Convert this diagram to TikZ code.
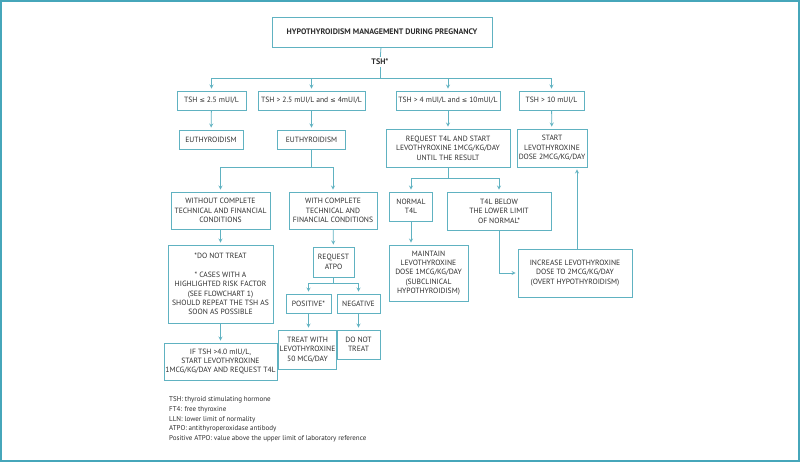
\documentclass[tikz,border=0pt]{standalone}
\usepackage{fontspec}
\setmainfont{PT Sans}
\newfontfamily\symfont[Scale=0.85]{DejaVu Sans}
\usepackage{tikz}
\usetikzlibrary{arrows}
\usetikzlibrary{positioning}
\definecolor{frameteal}{RGB}{70,166,186}
\definecolor{boxline}{RGB}{96,178,193}
\definecolor{ink}{RGB}{45,45,45}
\newcommand{\lesym}{{\symfont ≤}}
\tikzset{>=stealth,
  box/.style={draw=boxline, line width=0.8pt, align=center, inner sep=1pt,
    text=ink, font=\fontsize{7.6}{9.4}\selectfont},
  link/.style={color=boxline, line width=0.8pt},
  arr/.style={link, ->, shorten >=2pt}}

\begin{document}
\begin{tikzpicture}[x=1pt, y=-1pt]
    \useasboundingbox (0,0) rectangle (800,462);
    \draw[frameteal, line width=2pt] (1,1) rectangle (799,461);

    \node (title) [box, minimum width=220, minimum height=30, font=\bfseries\fontsize{8}{10}\selectfont] at (382,32) {HYPOTHYROIDISM MANAGEMENT DURING PREGNANCY};
    \node (tsh) [text=ink, font=\bfseries\fontsize{8}{10}\selectfont, inner sep=2pt] at (380,62) {TSH*};

    % TSH ranges
    \node (r1a) [box, minimum width=69, minimum height=19] at (211.5,100.5) {TSH \lesym{} 2.5 mUI/L};
    \node (r1b) [box, minimum width=107, minimum height=19] at (311.5,100.5) {TSH > 2.5 mUI/L and \lesym{} 4mUI/L};
    \node (r1c) [box, minimum width=104, minimum height=19] at (448,100.5) {TSH > 4 mUI/L and \lesym{} 10mUI/L};
    \node (r1d) [box, minimum width=65, minimum height=19] at (551.5,100.5) {TSH > 10 mUI/L};

    \node (eu1) [box, minimum width=64, minimum height=19] at (211,139.5) {EUTHYROIDISM};
    \node (eu2) [box, minimum width=68, minimum height=19] at (311.5,139.5) {EUTHYROIDISM};
    \node (req) [box, minimum width=124, minimum height=38] at (448,148) {REQUEST T4L AND START\\LEVOTHYROXINE 1MCG/KG/DAY\\UNTIL THE RESULT};
    \node (start) [box, minimum width=70, minimum height=38] at (552,148) {START\\LEVOTHYROXINE\\DOSE 2MCG/KG/DAY};

    % right branch
    \node (norm) [box, minimum width=43, minimum height=29] at (411,206.5) {NORMAL\\T4L};
    \node (below) [box, minimum width=104, minimum height=38] at (499,211) {T4L BELOW\\THE LOWER LIMIT\\OF NORMAL*};
    \node (maint) [box, minimum width=79, minimum height=56] at (428.5,273) {MAINTAIN\\LEVOTHYROXINE\\DOSE 1MCG/KG/DAY\\(SUBCLINICAL\\HYPOTHYROIDISM)};
    \node (incr) [box, minimum width=114, minimum height=48] at (575,273) {INCREASE LEVOTHYROXINE\\DOSE TO 2MCG/KG/DAY\\(OVERT HYPOTHYROIDISM)};

    % left branch
    \node (without) [box, minimum width=99, minimum height=37] at (220.5,210.5) {WITHOUT COMPLETE\\TECHNICAL AND FINANCIAL\\CONDITIONS};
    \node (with) [box, minimum width=88, minimum height=37] at (333,210.5) {WITH COMPLETE\\TECHNICAL AND\\FINANCIAL CONDITIONS};
    \node (dnt) [box, minimum width=105, minimum height=78] at (220.5,284) {*DO NOT TREAT\\[9.4pt]* CASES WITH A\\HIGHLIGHTED RISK FACTOR\\(SEE FLOWCHART 1)\\SHOULD REPEAT THE TSH AS\\SOON AS POSSIBLE};
    \node (iftsh) [box, minimum width=113, minimum height=37] at (220.5,361.5) {IF TSH >4.0 mIU/L,\\START LEVOTHYROXINE\\1MCG/KG/DAY AND REQUEST T4L};
    \node (atpo) [box, minimum width=41, minimum height=30] at (333.5,262) {REQUEST\\ATPO};
    \node (pos) [box, minimum width=45, minimum height=19] at (308.5,303.5) {POSITIVE*};
    \node (neg) [box, minimum width=43, minimum height=19] at (358.5,303.5) {NEGATIVE};
    \node (treat) [box, minimum width=57, minimum height=39] at (307.5,349.5) {TREAT WITH\\LEVOTHYROXINE\\50 MCG/DAY};
    \node (dont) [box, minimum width=43, minimum height=29] at (358.5,344.5) {DO NOT\\TREAT};

    \node (legend) [anchor=west, align=left, text=ink, inner sep=0pt, font=\fontsize{7}{9.7}\selectfont] at (169,419.5) {TSH: thyroid stimulating hormone\\FT4: free thyroxine\\LLN: lower limit of normality\\ATPO: antithyroperoxidase antibody\\Positive ATPO: value above the upper limit of laboratory reference};

    % junctions
    \coordinate (j0) at (380,78);
    \coordinate (j1) at (311.5,167);
    \coordinate (j2) at (448,178);
    \coordinate (j3) at (333.5,283);

    \draw[link] (title) -- (tsh);
    \draw[link] (tsh) -- (j0);
    \draw[arr] (j0) -| (r1a);
    \draw[arr] (j0) -| (r1b);
    \draw[arr] (j0) -| (r1c);
    \draw[arr] (j0) -| (r1d);

    \path[arr] (r1a) edge (eu1);
    \path[arr] (r1b) edge (eu2);
    \path[arr] (r1c) edge (req);
    \path[arr] (r1d) edge (start);

    \draw[link] (eu2) -- (j1);
    \draw[arr] (j1) -| (without);
    \draw[arr] (j1) -| (with);
    \path[arr] (without) edge (dnt);
    \path[arr] (dnt) edge (iftsh);
    \path[arr] (with) edge (atpo);
    \draw[link] (atpo) -- (j3);
    \draw[arr] (j3) -| (pos);
    \draw[arr] (j3) -| (neg);
    \draw[arr] (pos) -- (pos |- treat.north);
    \path[arr] (neg) edge (dont);

    \draw[link] (req) -- (j2);
    \draw[arr] (j2) -| (norm);
    \draw[arr] (j2) -| (below);
    \draw[arr] (norm) -- (norm |- maint.north);
    \draw[arr] (below) |- (incr);
    \draw[arr] ([xshift=2pt]incr.north) -- ([xshift=2pt]incr.north |- start.south);
\end{tikzpicture}
\end{document}
